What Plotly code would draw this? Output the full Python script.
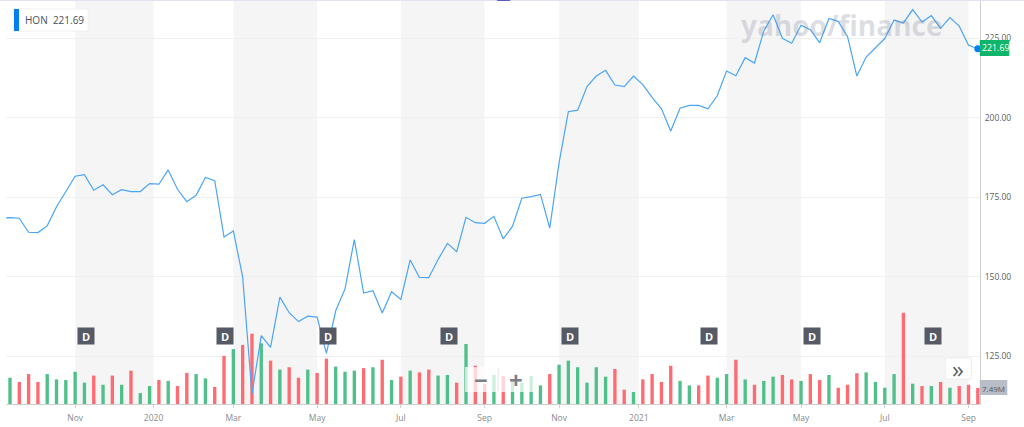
import pandas as pd
import plotly.graph_objects as go

# weekly closes, first one is just off the left edge of the chart
price = [
    168.4, 168.6, 168.4, 164.0, 163.9, 166.0, 172.0, 176.8, 181.6, 182.1, 177.2, 178.9, 175.8, 177.4, 176.8,
    176.8, 179.3, 179.1, 183.6, 177.5, 173.6, 175.6, 181.2, 180.2, 162.5, 164.4, 150.0, 113.1, 131.5, 127.8,
    143.6, 138.7, 135.9, 137.6, 137.3, 125.9, 139.3, 146.2, 161.7, 144.9, 145.6, 138.6, 145.3, 142.9, 155.3,
    149.8, 149.7, 155.4, 160.5, 157.9, 168.7, 167.0, 166.8, 169.0, 161.9, 165.9, 174.7, 175.2, 175.9, 165.3,
    185.8, 201.9, 202.4, 209.8, 213.1, 214.9, 210.3, 209.8, 213.1, 210.4, 206.4, 202.8, 195.8, 203.0, 203.9,
    203.9, 202.8, 206.9, 214.7, 213.2, 218.9, 217.2, 227.3, 232.4, 225.0, 223.4, 229.1, 227.7, 223.6, 231.2,
    230.3, 225.5, 213.1, 219.1, 221.9, 224.9, 230.7, 229.8, 234.0, 230.1, 232.1, 228.1, 231.5, 228.8, 222.8,
    221.69,
]

# weekly volume in millions
volume = [
    12.3, 10.3, 14.0, 10.3, 14.0, 11.5, 11.2, 15.1, 10.0, 13.3, 9.0, 13.3, 9.0, 15.6, 5.1,
    8.4, 11.2, 10.8, 8.4, 14.5, 14.0, 12.0, 8.0, 22.5, 25.7, 27.6, 32.9, 28.4, 20.3, 16.1,
    17.2, 12.3, 16.1, 14.5, 21.2, 17.5, 15.1, 15.6, 16.8, 17.2, 20.7, 11.2, 12.8, 15.6, 14.8,
    16.1, 13.3, 13.6, 10.0, 28.1, 17.9, 9.5, 13.6, 13.1, 11.1, 10.0, 13.1, 8.7, 14.0, 18.4,
    20.3, 17.2, 10.0, 17.2, 12.8, 16.4, 6.7, 5.6, 11.5, 14.0, 10.3, 17.9, 10.8, 8.7, 8.7,
    13.3, 12.3, 14.0, 20.7, 11.5, 9.0, 10.8, 12.8, 13.6, 11.5, 10.8, 14.0, 11.2, 13.6, 7.6,
    9.0, 14.4, 14.8, 10.3, 7.6, 14.0, 42.7, 9.5, 8.4, 8.4, 10.3, 7.6, 8.4, 9.0, 7.49,
]

# g = green bar, r = red bar
volume_dir = list(
    "grrrgggggrgrgrg"
    "grgrrggrrgrrgrg"
    "rrgrrgggrgrgrgr"
    "rggrgrrgrggggrg"
    "gggggrrgrrrrggr"
    "rggrgrggrrgrrgr"
    "rrggggrgrgrgrrr"
)

tick_dates = ["2019-11-04", "2020-01-02", "2020-03-02", "2020-05-04", "2020-07-06", "2020-09-07",
              "2020-11-02", "2021-01-01", "2021-03-08", "2021-05-03", "2021-07-05", "2021-09-06"]
tick_labels = ["Nov", "2020", "Mar", "May", "Jul", "Sep", "Nov", "2021", "Mar", "May", "Jul", "Sep"]

dividend_dates = ["2019-11-12", "2020-02-25", "2020-05-12", "2020-08-11",
                  "2020-11-10", "2021-02-23", "2021-05-11", "2021-08-10"]

price_ticks = [125, 150, 175, 200, 225]

price_dates = pd.date_range("2019-09-09", periods=len(price), freq="7D")
volume_dates = price_dates[1:]

WIDTH, HEIGHT = 1024, 427
LEFT, RIGHT, TOP, BOTTOM = 6, 979.7, 1, 404
FONT = "Open Sans"
GREEN, RED = "#4fc08a", "#ff6b72"


def px(x):
    return (x - LEFT) / (RIGHT - LEFT)


def py(y):
    return (BOTTOM - y) / (BOTTOM - TOP)


def box(x0, y0, x1, y1, fill, line=None):
    return dict(type="rect", xref="paper", yref="paper", x0=px(x0), x1=px(x1), y0=py(y0), y1=py(y1),
                fillcolor=fill, line=dict(color=line or fill, width=1 if line else 0), layer="above")


def label(x, y, text, size, color, anchor="center", bold=False):
    if bold:
        text = f"<b>{text}</b>"
    return dict(xref="paper", yref="paper", x=px(x), y=py(y), text=text, showarrow=False, xanchor=anchor,
                yanchor="middle", font=dict(family=FONT, size=size, color=color))


fig = go.Figure()
fig.add_trace(go.Bar(x=volume_dates, y=volume, marker=dict(color=[GREEN if d == "g" else RED for d in volume_dir], line_width=0),
                     yaxis="y", hoverinfo="skip"))
fig.add_trace(go.Scatter(x=price_dates, y=price, mode="lines", line=dict(color="#4aa5f7", width=1.2), yaxis="y2"))
fig.add_trace(go.Scatter(x=price_dates[-1:], y=price[-1:], mode="markers", marker=dict(color="#0081f2", size=7), yaxis="y2",
                         cliponaxis=False))

shapes = []
# alternating month bands, every other pair of ticks
for start, end in zip(tick_dates[0::2], tick_dates[1::2]):
    shapes.append(dict(type="rect", xref="x", yref="paper", x0=start, x1=end, y0=0, y1=1, layer="below",
                       fillcolor="rgba(0,0,0,0.04)", line_width=0))
shapes += [
    box(0, 0, WIDTH, 1, "#e0e4ee"),
    box(497, 0, 510, 1, "#5a5fc8"),
    box(14, 9, 88, 31, "#ffffff", "#f0f0f2"),
    box(14, 9, 19, 31, "#0081f2"),
    box(979.5, 40, 1009, 56, "#0fb56a"),
    box(979.5, 380, 1007, 395, "#b9bdc8"),
    box(945, 358, 971, 379, "#ffffff", "#eeeeee"),
    box(465, 367, 533, 392, "rgba(255,255,255,0.72)"),
    dict(type="line", xref="paper", yref="paper", x0=px(498), x1=px(498), y0=py(368), y1=py(391),
         line=dict(color="#e3e3e3", width=1), layer="above"),
]

annotations = [
    label(23, 20, "HON&nbsp;&nbsp;221.69", 10, "#4a5058", "left"),
    label(994.7, 48, "221.69", 8.8, "#ffffff"),
    label(993, 388, "7.49M", 8, "#50555e"),
    label(958, 368, "»", 24, "#5b5f66"),
    label(481, 379, "−", 24, "#7b7f86", bold=True),
    label(516, 379, "+", 24, "#7b7f86", bold=True),
    # see-through so the price line still shows behind the watermark
    label(842, 25, "yahoo/finance", 28, "rgba(120,126,145,0.25)", bold=True),
]
for d in dividend_dates:
    annotations.append(dict(x=d, xref="x", yref="paper", y=py(344.7), text="<b>D</b>", showarrow=False,
                            bgcolor="#555a64", font=dict(family=FONT, size=11, color="#ffffff"),
                            width=12, height=12, borderpad=2))

fig.update_layout(
    width=WIDTH,
    height=HEIGHT,
    margin=dict(l=LEFT, r=WIDTH - RIGHT, t=TOP, b=HEIGHT - BOTTOM, pad=0),
    paper_bgcolor="#ffffff",
    plot_bgcolor="#ffffff",
    showlegend=False,
    bargap=0.64,
    shapes=shapes,
    annotations=annotations,
    xaxis=dict(type="date", range=["2019-09-13", "2021-09-14 15:00"], tickmode="array", tickvals=tick_dates,
               ticktext=tick_labels, showgrid=False, showline=True, linecolor="#cfcfcf", ticks="outside", ticklen=3,
               ticklabelstandoff=3, tickcolor="#cfcfcf", tickfont=dict(family=FONT, size=8.5, color="#8a8a8a"),
               zeroline=False),
    yaxis=dict(range=[0, 188.6], visible=False, fixedrange=True),
    yaxis2=dict(range=[110, 236.7], overlaying="y", side="right", tickmode="array", tickvals=price_ticks,
                tickformat=".2f", gridcolor="#f0f0f0", showline=True, linecolor="#cfcfcf", ticks="outside", ticklen=2,
                tickcolor="rgba(0,0,0,0)", tickfont=dict(family=FONT, size=8.5, color="#5a5f66"), zeroline=False),
)

fig.write_html("out.html", config=dict(displayModeBar=False),
               post_script="document.body.style.margin='0';document.body.style.overflow='hidden';")
